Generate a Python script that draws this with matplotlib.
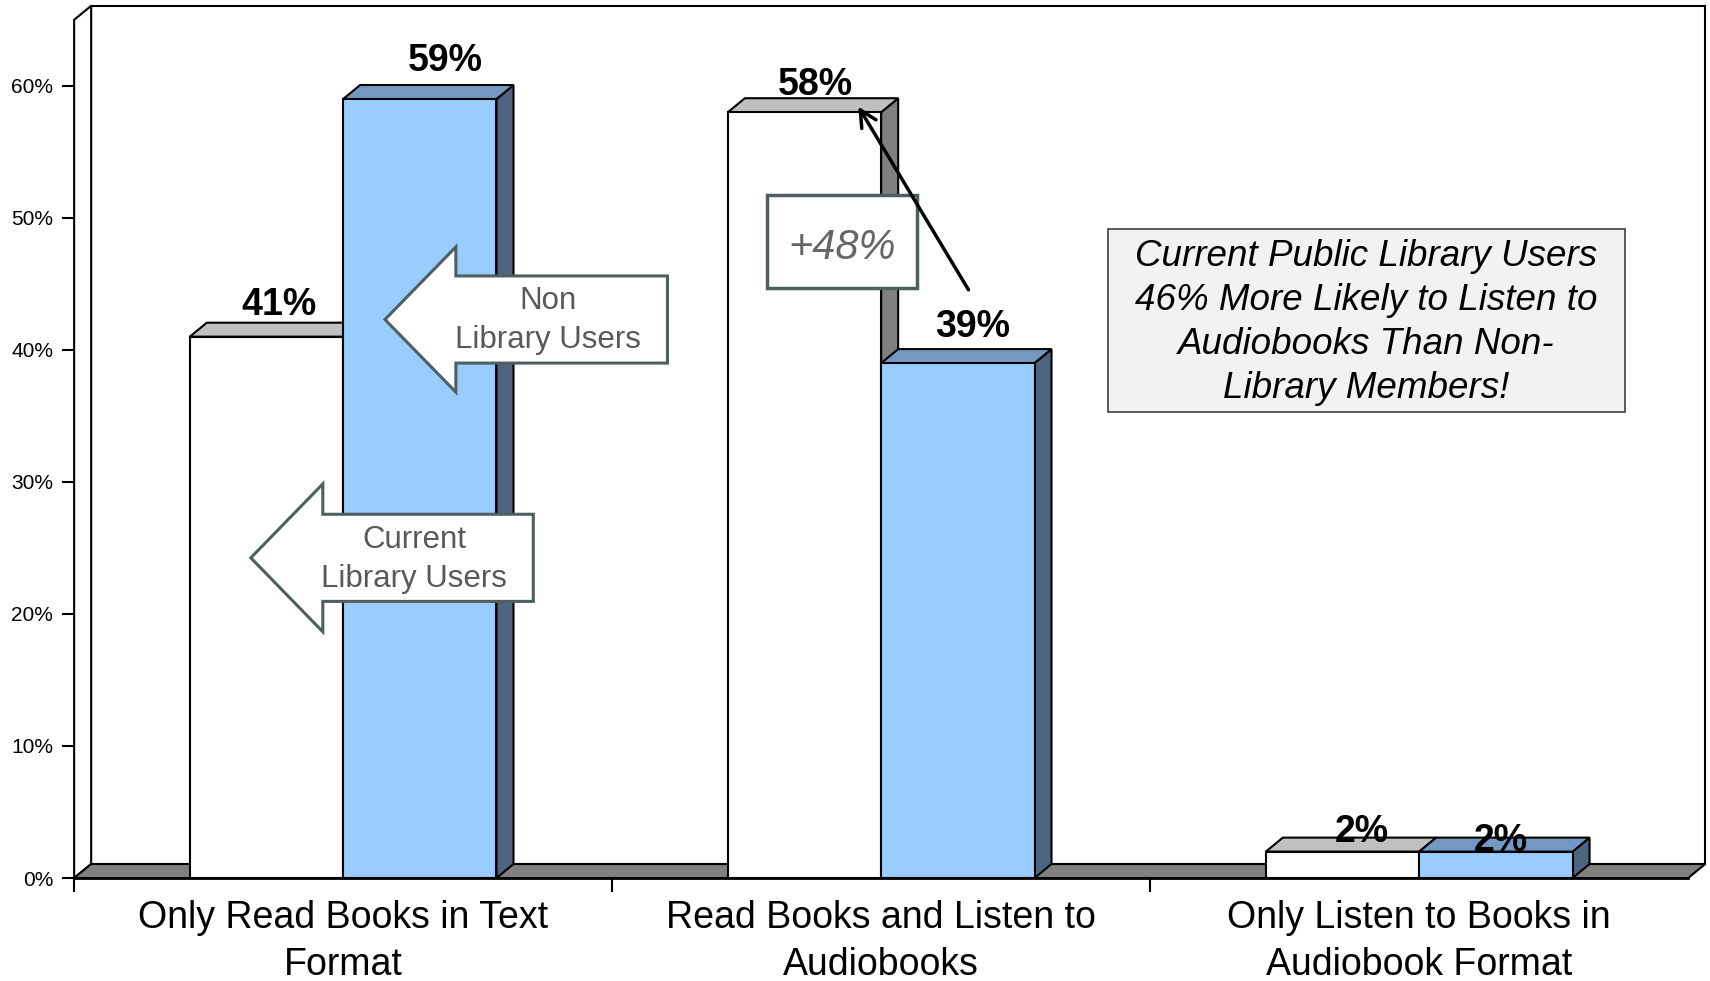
import numpy as np
import matplotlib.pyplot as plt
from matplotlib.patches import Polygon, Rectangle

categories = ["Only Read Books in Text\nFormat",
              "Read Books and Listen to\nAudiobooks",
              "Only Listen to Books in\nAudiobook Format"]
current_users = [41, 58, 2]
non_users = [59, 39, 2]
yticks = [0, 10, 20, 30, 40, 50, 60]
ytick_labels = ["0%", "10%", "20%", "30%", "40%", "50%", "60%"]

plt.rcParams['font.family'] = ['Liberation Sans', 'DejaVu Sans']

# 3d look: depth offset in data units
ddx, ddy = 0.0316, 1.06
wall_top = 65
bar_w = 0.285


def box3d(ax, x, h, face, top, side):
    ax.add_patch(Polygon([(x + bar_w, 0), (x + bar_w + ddx, ddy), (x + bar_w + ddx, h + ddy), (x + bar_w, h)],
                         closed=True, fc=side, ec='black', lw=1.5, zorder=3))
    ax.add_patch(Polygon([(x, h), (x + bar_w, h), (x + bar_w + ddx, h + ddy), (x + ddx, h + ddy)],
                         closed=True, fc=top, ec='black', lw=1.5, zorder=3))
    ax.add_patch(Rectangle((x, 0), bar_w, h, fc=face, ec='black', lw=1.5, zorder=3))


def block_arrow(ax, tip_x, head_x, right_x, yc, head_half, body_half, text):
    pts = [(tip_x, yc), (head_x, yc + head_half), (head_x, yc + body_half),
           (right_x, yc + body_half), (right_x, yc - body_half),
           (head_x, yc - body_half), (head_x, yc - head_half)]
    ax.add_patch(Polygon(pts, closed=True, fc='white', ec='#4f5f5f', lw=2.2, zorder=6))
    ax.text((head_x + right_x) / 2 - 0.026, yc - 0.1, text, ha='center', va='center', fontsize=22.5,
            color='#595959', linespacing=1.38, zorder=7)


fig = plt.figure(figsize=(17.1, 9.81), dpi=100)
ax = fig.add_axes([0, 0, 1, 1])
ax.set_xlim(-0.6378, 2.5405)
ax.set_ylim(-7.8, 66.5)
ax.patch.set_alpha(0)

# walls and floor
ax.add_patch(Polygon([(-0.5 + ddx, ddy), (2.5 + ddx, ddy), (2.5 + ddx, wall_top + ddy), (-0.5 + ddx, wall_top + ddy)],
                     closed=True, fc='white', ec='black', lw=1.5, zorder=1))
ax.add_patch(Polygon([(-0.5, 0), (-0.5 + ddx, ddy), (-0.5 + ddx, wall_top + ddy), (-0.5, wall_top)],
                     closed=True, fc='white', ec='black', lw=1.5, zorder=1))
ax.add_patch(Polygon([(-0.5, 0), (2.5, 0), (2.5 + ddx, ddy), (-0.5 + ddx, ddy)],
                     closed=True, fc='#808080', ec='black', lw=1.5, zorder=2))

x = np.arange(len(categories))
for i in x:
    box3d(ax, i - bar_w, current_users[i], 'white', '#c0c0c0', '#808080')
    box3d(ax, i, non_users[i], '#99ccff', '#7399c2', '#4d6580')

# label nudges (x in data units, y in %)
cur_dx = [0.008, 0.004, 0.02]
cur_dy = [2.4, 2.1, 1.5]
non_dx = [0.032, 0.012, -0.006]
non_dy = [2.9, 2.7, 0.8]
for i in x:
    ax.text(i - bar_w / 2 + ddx / 2 + cur_dx[i], current_users[i] + cur_dy[i], f"{current_users[i]}%",
            ha='center', va='center', fontsize=27, fontweight='bold', zorder=5)
    ax.text(i + bar_w / 2 + ddx / 2 + non_dx[i], non_users[i] + non_dy[i], f"{non_users[i]}%",
            ha='center', va='center', fontsize=27, fontweight='bold', zorder=5)

# axes
for s in ['top', 'right']:
    ax.spines[s].set_visible(False)
ax.spines['left'].set_position(('data', -0.5))
ax.spines['left'].set_bounds(0, wall_top)
ax.spines['left'].set_visible(False)
ax.spines['bottom'].set_position(('data', 0))
ax.spines['bottom'].set_bounds(-0.5, 2.5)
ax.spines['bottom'].set_linewidth(2)
ax.spines['bottom'].set_zorder(4)
ax.set_yticks(yticks)
ax.set_yticklabels(ytick_labels, fontsize=15)
ax.tick_params(axis='y', length=9, width=1.5, pad=6)
ax.set_xticks(x)
ax.set_xticklabels(categories, fontsize=27, linespacing=1.38)
ax.set_xticks([-0.5, 0.5, 1.5], minor=True)
ax.tick_params(axis='x', which='major', length=0, pad=16)
ax.tick_params(axis='x', which='minor', length=10, width=1.5)

# annotations
block_arrow(ax, 0.0777, 0.2095, 0.6028, 42.3, 5.5, 3.3, "Non\nLibrary Users")
block_arrow(ax, -0.1716, -0.0378, 0.3534, 24.25, 5.6, 3.3, "Current\nLibrary Users")

ax.add_patch(Rectangle((0.7873, 44.71), 0.2797, 7.03, fc='white', ec='#4f5f5f', lw=2.5, zorder=6))
ax.text(0.927, 47.7, "+48%", ha='center', va='center', fontsize=30, style='italic',
        color='#666666', zorder=7)
ax.annotate('', xy=(0.9575, 58.43), xytext=(1.1623, 44.55),
            arrowprops=dict(arrowstyle='->', lw=2.5, color='black', mutation_scale=30,
                            shrinkA=0, shrinkB=0), zorder=8)

ax.add_patch(Rectangle((1.4218, 35.29), 0.9608, 13.88, fc='#f2f2f2', ec='#404040', lw=1.2, zorder=6))
ax.text(1.902, 42.1, "Current Public Library Users\n46% More Likely to Listen to\nAudiobooks Than Non-\nLibrary Members!",
        ha='center', va='center', fontsize=26.5, style='italic', linespacing=1.33, zorder=7)

fig.savefig('out.png', dpi=100)
